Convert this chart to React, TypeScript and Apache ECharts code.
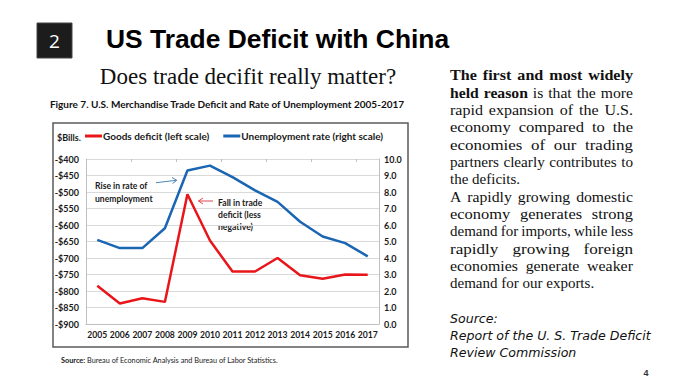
import React, { useEffect, useRef } from "react";
import * as echarts from "echarts";

const years = ["2005", "2006", "2007", "2008", "2009", "2010", "2011", "2012", "2013", "2014", "2015", "2016", "2017"];
const goodsDeficit = [-784, -838, -822, -833, -507, -647, -741, -741, -700, -752, -763, -750, -751];
const unemploymentRate = [5.1, 4.6, 4.6, 5.8, 9.3, 9.6, 8.9, 8.1, 7.4, 6.2, 5.3, 4.9, 4.1];
const leftMin = -900;
const leftMax = -400;
const leftStep = 50;
const rightMin = 0;
const rightMax = 10;
const rightStep = 1;

const seriesNames = ["Goods deficit (left scale)", "Unemployment rate (right scale)"];

const bodyLines = [
  { text: "The first and most widely", bold: 5, justify: true },
  { text: "held reason is that the more", bold: 2, justify: true },
  { text: "rapid expansion of the U.S.", bold: 0, justify: true },
  { text: "economy compared to the", bold: 0, justify: true },
  { text: "economies of our trading", bold: 0, justify: true },
  { text: "partners clearly contributes to", bold: 0, justify: true },
  { text: "the deficits.", bold: 0, justify: false },
  { text: "A rapidly growing domestic", bold: 0, justify: true },
  { text: "economy generates strong", bold: 0, justify: true },
  { text: "demand for imports, while less", bold: 0, justify: true },
  { text: "rapidly growing foreign", bold: 0, justify: true },
  { text: "economies generate weaker", bold: 0, justify: true },
  { text: "demand for our exports.", bold: 0, justify: false },
];

const sourceLines = ["Source:", "Report of the U. S. Trade Deficit", "Review Commission"];

const RED = "#e8161b";
const BLUE = "#1a66b3";
const SANS = "Lato, 'Open Sans', sans-serif";
const SERIF = "'Liberation Serif', 'Times New Roman', serif";

function measure(text: string, font: string): number {
  const c = document.createElement("canvas");
  const ctx = c.getContext("2d") as CanvasRenderingContext2D;
  ctx.font = font;
  return ctx.measureText(text).width;
}

function buildBody(): any[] {
  const els: any[] = [];
  const x0 = 450;
  const width = 183;
  const size = 15;
  bodyLines.forEach((ln, i) => {
    const y = 75 + i * 17.35;
    const words = ln.text.split(" ");
    const fonts = words.map((_, k) => (k < ln.bold ? "bold" : "normal"));
    const widths = words.map((w, k) => measure(w, `${fonts[k]} ${size}px ${SERIF}`));
    const total = widths.reduce((a, b) => a + b, 0);
    const spaceW = measure(" ", `${size}px ${SERIF}`);
    let scale = 1;
    let gap = spaceW;
    if (ln.justify && words.length > 1) {
      const extra = Math.max(0, width - total - spaceW * (words.length - 1));
      scale = Math.min(1.14, 1 + (0.55 * extra) / total);
      gap = (width - total * scale) / (words.length - 1);
    }
    let x = x0;
    words.forEach((w, k) => {
      els.push({
        type: "text",
        x,
        y,
        scaleX: scale,
        style: {
          text: w,
          fontFamily: SERIF,
          fontSize: size,
          fontWeight: fonts[k],
          fill: "#111",
          verticalAlign: "middle",
          align: "left",
        },
      });
      x += widths[k] * scale + gap;
    });
  });
  sourceLines.forEach((s, i) => {
    els.push({
      type: "text",
      x: 450,
      y: 318 + i * 17,
      style: {
        text: s,
        fontFamily: "'DejaVu Sans', Verdana, sans-serif",
        fontStyle: "italic",
        fontSize: 12.6,
        fill: "#111",
        verticalAlign: "middle",
      },
    });
  });
  return els;
}

const annStyle = { fontFamily: SANS, fontWeight: "bold", fontSize: 8.6, fill: "#1a1a1a", verticalAlign: "middle" };

export default function App() {
  const ref = useRef<HTMLDivElement>(null);

  useEffect(() => {
    document.body.style.margin = "0";
    if (!ref.current) return;
    const chart = echarts.init(ref.current, undefined, { renderer: "svg" });
    const option: any = {
      animation: false,
      backgroundColor: "#ffffff",
      legend: {
        left: 85,
        top: 131,
        padding: 0,
        itemGap: 14,
        itemWidth: 17,
        itemHeight: 3,
        icon: "rect",
        data: seriesNames,
        textStyle: { fontFamily: SANS, fontWeight: "bold", fontSize: 10, color: "#1a1a1a", padding: [0, 0, 0, -4] },
      },
      grid: { left: 86, top: 159, width: 293, height: 165, containLabel: false },
      xAxis: [
        {
          type: "category",
          data: years,
          boundaryGap: true,
          axisLine: { show: true, lineStyle: { color: "#bfbfbf" } },
          axisTick: { show: false },
          axisLabel: { interval: 0, fontFamily: SANS, fontWeight: "bold", fontSize: 8.6, color: "#1a1a1a", margin: 6 },
        },
        {
          type: "category",
          data: years,
          position: "top",
          boundaryGap: true,
          axisLine: { show: false },
          axisTick: { show: true, inside: true, length: 3, lineStyle: { color: "#bfbfbf" } },
          axisLabel: { show: false },
        },
      ],
      yAxis: [
        {
          type: "value",
          min: leftMin,
          max: leftMax,
          interval: leftStep,
          axisLine: { show: true, lineStyle: { color: "#bfbfbf" } },
          axisTick: { show: false },
          splitLine: { show: true, lineStyle: { color: "#d9d9d9" } },
          axisLabel: {
            fontFamily: SANS,
            fontWeight: "bold",
            fontSize: 9,
            color: "#1a1a1a",
            margin: 7,
            formatter: (v: number) => "-$" + Math.abs(v),
          },
        },
        {
          type: "value",
          min: rightMin,
          max: rightMax,
          interval: rightStep,
          position: "right",
          axisLine: { show: true, lineStyle: { color: "#bfbfbf" } },
          axisTick: { show: false },
          splitLine: { show: false },
          axisLabel: {
            fontFamily: SANS,
            fontWeight: "bold",
            fontSize: 9,
            color: "#1a1a1a",
            margin: 5,
            formatter: (v: number) => v.toFixed(1),
          },
        },
      ],
      series: [
        {
          name: seriesNames[0],
          type: "line",
          data: goodsDeficit,
          yAxisIndex: 0,
          xAxisIndex: 0,
          showSymbol: false,
          symbol: "none",
          lineStyle: { color: RED, width: 2.5 },
          itemStyle: { color: RED },
        },
        {
          name: seriesNames[1],
          type: "line",
          data: unemploymentRate,
          yAxisIndex: 1,
          xAxisIndex: 0,
          showSymbol: false,
          symbol: "none",
          lineStyle: { color: BLUE, width: 2.5 },
          itemStyle: { color: BLUE },
        },
      ],
      graphic: [
        { type: "rect", shape: { x: 37, y: 23, width: 35, height: 35 }, style: { fill: "#1c1c1c", stroke: "#444", lineWidth: 1 } },
        { type: "text", x: 54.5, y: 40.5, style: { text: "2", fontFamily: "'Open Sans', sans-serif", fontSize: 19, fill: "#ffffff", align: "center", verticalAlign: "middle" } },
        { type: "text", x: 106, y: 39, style: { text: "US Trade Deficit with China", fontFamily: "'Liberation Sans', Arial, sans-serif", fontWeight: "bold", fontSize: 26.4, fill: "#000", align: "left", verticalAlign: "middle" } },
        { type: "text", x: 248, y: 76, style: { text: "Does trade decifit really matter?", fontFamily: SERIF, fontSize: 23, fill: "#111", align: "center", verticalAlign: "middle" } },
        { type: "text", x: 227, y: 104, style: { text: "Figure 7. U.S. Merchandise Trade Deficit and Rate of Unemployment 2005-2017", fontFamily: SANS, fontWeight: "bold", fontSize: 10, fill: "#111", align: "center", verticalAlign: "middle" } },
        { type: "rect", shape: { x: 53, y: 123, width: 355, height: 224 }, style: { fill: "none", stroke: "#5a5a5a", lineWidth: 1.5 } },
        { type: "text", x: 57, y: 137, style: { text: "$Bills.", fontFamily: SANS, fontWeight: "bold", fontSize: 9, fill: "#1a1a1a", align: "left", verticalAlign: "middle" } },
        { type: "text", x: 95, y: 186, style: { ...annStyle, text: "Rise in rate of" } },
        { type: "text", x: 95, y: 199, style: { ...annStyle, text: "unemployment" } },
        { type: "line", shape: { x1: 156, y1: 182.7, x2: 176.5, y2: 180.3 }, style: { stroke: "#4f86b8", lineWidth: 1 } },
        { type: "polyline", shape: { points: [[172, 177.5], [176.8, 180.3], [172.5, 183.5]] }, style: { stroke: "#4f86b8", lineWidth: 1, fill: "none" } },
        { type: "text", x: 218, y: 203, style: { ...annStyle, text: "Fall in trade" } },
        { type: "text", x: 218, y: 215, style: { ...annStyle, text: "deficit (less" } },
        { type: "text", x: 218, y: 227, style: { ...annStyle, text: "negative)" } },
        { type: "line", shape: { x1: 198.5, y1: 201, x2: 213, y2: 201 }, style: { stroke: "#e0474c", lineWidth: 1 } },
        { type: "polyline", shape: { points: [[203, 198], [198.5, 201], [203, 204]] }, style: { stroke: "#e0474c", lineWidth: 1, fill: "none" } },
        {
          type: "text",
          x: 61,
          y: 360,
          style: {
            text: "{b|Source:} Bureau of Economic Analysis and Bureau of Labor Statistics.",
            fontFamily: SANS,
            fontSize: 7.3,
            fill: "#1a1a1a",
            verticalAlign: "middle",
            rich: { b: { fontFamily: SANS, fontSize: 7.3, fontWeight: "bold", fill: "#1a1a1a" } },
          },
        },
        ...buildBody(),
        { type: "text", x: 646, y: 373, style: { text: "4", fontFamily: "'Liberation Sans', sans-serif", fontWeight: "bold", fontSize: 9, fill: "#333", align: "center", verticalAlign: "middle" } },
      ],
    };
    chart.setOption(option);
    return () => chart.dispose();
  }, []);

  return <div ref={ref} style={{ width: 700, height: 390 }} />;
}
